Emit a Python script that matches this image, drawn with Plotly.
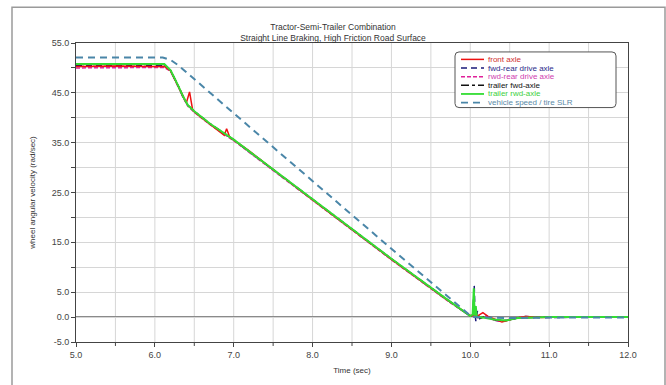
import plotly.graph_objects as go

# ---------------- data ----------------
t_front = [5.0, 5.5, 6.0, 6.12, 6.2, 6.25, 6.3, 6.36, 6.40, 6.44, 6.48, 6.55, 6.7, 6.88, 6.91, 6.95,
           7.2, 8.0, 9.0, 9.7, 10.0, 10.05, 10.1, 10.16, 10.22, 10.3, 10.4, 10.45, 10.55, 10.7,
           10.9, 11.2, 11.6, 12.0]
v_front = [50.3, 50.4, 50.3, 50.3, 49.4, 47.8, 46.2, 44.2, 43.0, 45.2, 41.5, 40.5, 38.7, 36.5, 37.8, 36.1,
           33.3, 23.5, 11.6, 3.5, 0.3, 0.2, 0.3, 0.9, 0.2, -0.3, -1.0, -0.8, -0.3, 0.1,
           -0.1, 0.0, 0.0, 0.0]

t_fwd_rear = [5.0, 6.0, 6.12, 6.2, 6.25, 6.3, 6.36, 6.42, 6.5, 6.7, 7.0, 8.0, 9.0, 9.7, 10.0, 10.03,
              10.05, 10.06, 10.07, 10.09, 10.12, 10.2, 10.3, 10.4, 10.5, 10.7, 11.0, 11.5, 12.0]
v_fwd_rear = [50.5, 50.5, 50.5, 49.4, 47.9, 46.2, 44.1, 42.4, 41.2, 38.7, 35.5, 23.5, 11.6, 3.5, 0.2, 0.4,
              6.3, 0.8, -0.8, 1.2, -0.3, 0.3, -0.6, -0.9, -0.5, 0.1, -0.1, 0.0, 0.0]

t_rwd_rear = [5.0, 6.0, 6.12, 6.2, 6.25, 6.3, 6.36, 6.42, 6.5, 6.7, 7.0, 8.0, 9.0, 9.7, 10.0, 10.05,
              10.1, 10.2, 10.3, 10.4, 10.5, 10.7, 11.0, 11.5, 12.0]
v_rwd_rear = [50.0, 50.1, 50.1, 49.3, 47.8, 46.1, 44.0, 42.3, 41.1, 38.6, 35.4, 23.4, 11.5, 3.4, 0.2, 0.5,
              -0.3, 0.2, -0.6, -0.9, -0.4, 0.1, 0.0, 0.0, 0.0]

t_trl_fwd = [5.0, 6.0, 6.12, 6.2, 6.25, 6.3, 6.36, 6.42, 6.5, 6.7, 7.0, 8.0, 9.0, 9.7, 10.0, 10.04,
             10.06, 10.08, 10.12, 10.2, 10.3, 10.45, 10.6, 11.0, 11.5, 12.0]
v_trl_fwd = [50.7, 50.7, 50.7, 49.5, 48.0, 46.3, 44.2, 42.5, 41.3, 38.8, 35.6, 23.6, 11.7, 3.6, 0.2, 0.3,
             2.0, 0.1, -0.2, 0.1, -0.5, -0.7, -0.2, 0.0, 0.0, 0.0]

t_trl_rwd = [5.0, 6.0, 6.12, 6.2, 6.25, 6.3, 6.36, 6.42, 6.5, 6.7, 7.0, 8.0, 9.0, 9.7, 10.0, 10.03,
             10.045, 10.055, 10.07, 10.08, 10.1, 10.2, 10.3, 10.45, 10.6, 11.0, 11.5, 12.0]
v_trl_rwd = [50.8, 50.8, 50.8, 49.5, 48.0, 46.3, 44.2, 42.5, 41.3, 38.8, 35.6, 23.6, 11.7, 3.6, 0.2, 0.5,
             5.8, 0.3, 2.2, 0.2, 0.0, -0.2, -0.5, -0.7, -0.2, 0.0, 0.0, 0.0]

t_vehicle = [5.0, 6.1, 6.2, 6.3, 7.0, 8.0, 9.0, 10.0, 10.05, 10.5, 11.0, 12.0]
v_vehicle = [52.1, 52.1, 51.6, 50.5, 40.9, 27.3, 13.7, 0.3, 0.0, -0.2, -0.1, -0.1]

names = ["front axle", "fwd-rear drive axle", "rwd-rear drive axle",
         "trailer fwd-axle", "trailer rwd-axle", "vehicle speed / tire SLR"]
line_colors = ["#ee1111", "#1a1a7a", "#e0209a", "#111111", "#33dd33", "#4a86a8"]
text_colors = ["#d03030", "#2a2a8a", "#d040b0", "#111111", "#40d040", "#5a8aa8"]
dashes = ["solid", "6px,4px", "4px,2px", "8px,3px,3px,3px", "solid", "7px,5px"]
widths = [1.5, 1.5, 1.5, 1.5, 2.0, 2.0]

x_ticks = [5.0, 6.0, 7.0, 8.0, 9.0, 10.0, 11.0, 12.0]
y_tickvals = [-5, 0, 5, 10, 15, 20, 25, 30, 35, 40, 45, 50, 55]
y_ticktext = ["-5.0", "0.0", "5.0", "", "15.0", "", "25.0", "", "35.0", "", "45.0", "", "55.0"]

series = [(t_front, v_front), (t_fwd_rear, v_fwd_rear), (t_rwd_rear, v_rwd_rear),
          (t_trl_fwd, v_trl_fwd), (t_trl_rwd, v_trl_rwd), (t_vehicle, v_vehicle)]

# ---------------- figure ----------------
W, H = 666, 385
L, R, T, B = 76, 38, 43, 41
PW, PH = W - L - R, H - T - B

def px2x(px):
    return (px - L) / PW

def px2y(py):
    return (H - B - py) / PH

fig = go.Figure()
order = [1, 2, 3, 0, 4, 5]
for i in order:
    t, v = series[i]
    fig.add_trace(go.Scatter(x=t, y=v, mode="lines", name=names[i], showlegend=False,
                             line=dict(color=line_colors[i], width=widths[i], dash=dashes[i])))

font = "Liberation Sans, Arial, sans-serif"
fig.update_layout(
    width=W, height=H, margin=dict(l=L, r=R, t=T, b=B),
    paper_bgcolor="white", plot_bgcolor="white",
    font=dict(family=font, size=9, color="#333333"),
    title=dict(text="Tractor-Semi-Trailer Combination<br>Straight Line Braking, High Friction Road Surface",
               x=0.5, xanchor="center", y=1 - 30 / H, yanchor="middle",
               font=dict(size=8.5, color="#333333")),
    xaxis=dict(range=[5, 12], tickvals=x_ticks, ticktext=[f"{v:.1f}" for v in x_ticks],
               showgrid=False, zeroline=False, showline=True, linecolor="#444444", linewidth=1,
               mirror=True, ticks="outside", ticklen=4, tickcolor="#444444",
               title=dict(text="Time (sec)", font=dict(size=8), standoff=8),
               tickfont=dict(size=9, color="#444444")),
    yaxis=dict(range=[-5, 55], tickvals=y_tickvals, ticktext=y_ticktext,
               showgrid=True, gridcolor="#d6d6d6", gridwidth=1, zeroline=False,
               showline=True, linecolor="#444444", linewidth=1, mirror=True,
               ticks="outside", ticklen=4, tickcolor="#444444",
               title=dict(text="wheel angular velocity (rad/sec)", font=dict(size=8), standoff=14),
               tickfont=dict(size=9, color="#444444")),
)

shapes = []
# vertical grid lines every 0.5 s
for k in range(1, 14):
    xv = 5 + 0.5 * k
    shapes.append(dict(type="line", xref="x", yref="paper", x0=xv, x1=xv, y0=0, y1=1,
                       line=dict(color="#d6d6d6", width=1), layer="below"))
    if k % 2 == 1:
        shapes.append(dict(type="line", xref="x", yref="paper", x0=xv, x1=xv, y0=0, y1=-4 / PH,
                           line=dict(color="#444444", width=1)))
# zero line
shapes.append(dict(type="line", xref="paper", yref="y", x0=0, x1=1, y0=0, y1=0,
                   line=dict(color="#8a8a8a", width=2), layer="below"))
# outer frame
shapes.append(dict(type="rect", xref="paper", yref="paper", x0=px2x(12), x1=px2x(665),
                   y0=px2y(395), y1=px2y(7), line=dict(color="#9a9a9a", width=1.5)))
# legend box (rounded)
bx0, bx1, by0, by1, r = px2x(455), px2x(616), px2y(108), px2y(52), 4
rx, ry = r / PW, r / PH
path = (f"M {bx0+rx},{by1} L {bx1-rx},{by1} Q {bx1},{by1} {bx1},{by1-ry} "
        f"L {bx1},{by0+ry} Q {bx1},{by0} {bx1-rx},{by0} L {bx0+rx},{by0} "
        f"Q {bx0},{by0} {bx0},{by0+ry} L {bx0},{by1-ry} Q {bx0},{by1} {bx0+rx},{by1} Z")
shapes.append(dict(type="path", xref="paper", yref="paper", path=path,
                   fillcolor="white", line=dict(color="#555555", width=1)))

annotations = []
rows = [59.5, 68.2, 76.9, 85.6, 94.3, 103.0]
for i, yy in enumerate(rows):
    shapes.append(dict(type="line", xref="paper", yref="paper", x0=px2x(461), x1=px2x(484),
                       y0=px2y(yy), y1=px2y(yy),
                       line=dict(color=line_colors[i], width=1.5 if widths[i] < 2 else 1.8,
                                 dash=dashes[i])))
    annotations.append(dict(xref="paper", yref="paper", x=px2x(485.5), y=px2y(yy),
                            xanchor="left", yanchor="middle", showarrow=False,
                            text=names[i], font=dict(size=8, color=text_colors[i], family=font)))

fig.update_layout(shapes=shapes, annotations=annotations)
fig.write_html("out.html")
